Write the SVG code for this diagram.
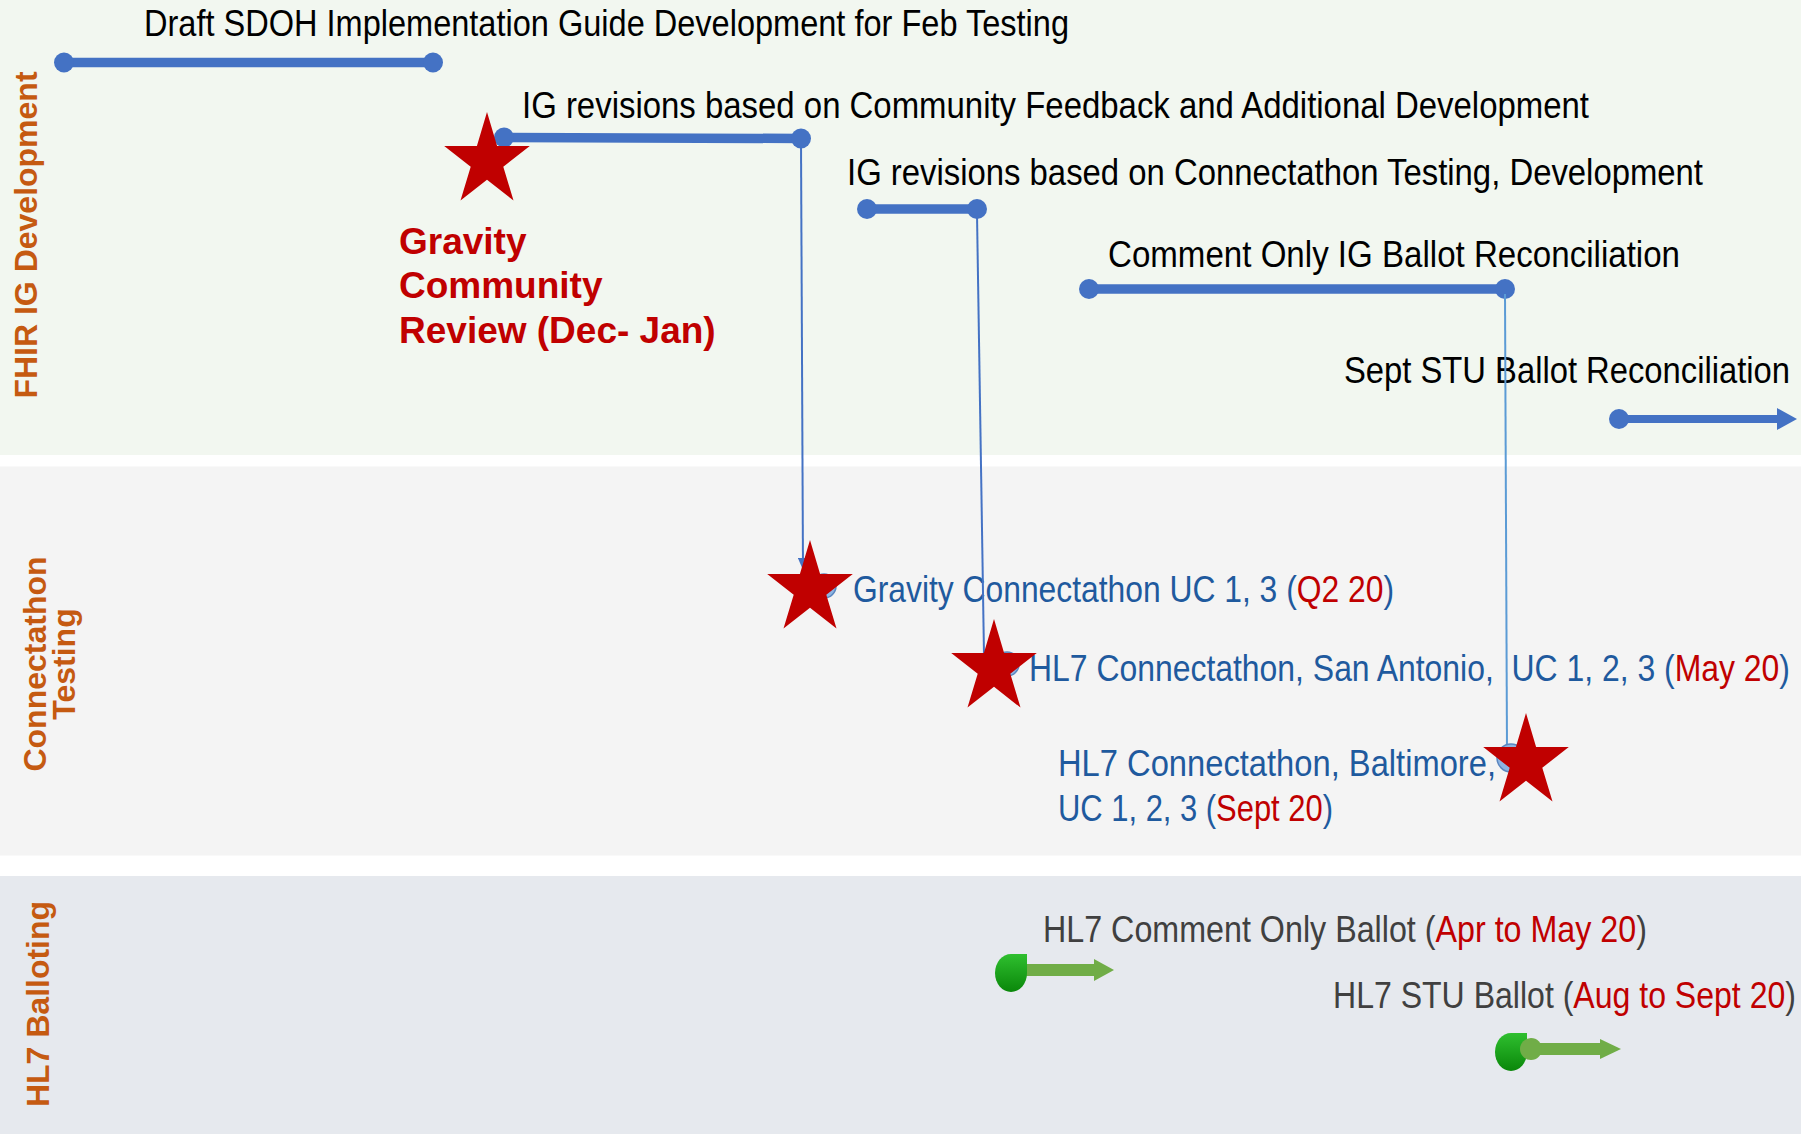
<svg xmlns="http://www.w3.org/2000/svg" width="1812" height="1134" viewBox="0 0 1812 1134">
<defs>
<style>
.lane{font-family:"Liberation Sans",Arial,sans-serif;font-weight:bold;font-size:32px;fill:#C55A11}
.t{font-family:"Liberation Sans Narrow","Liberation Sans",Arial,sans-serif;font-size:36px}
.blk{fill:#000000}
.blu{fill:#1F5A9E}
.gry{fill:#404040}
.red{fill:#C00000}
.rb{font-family:"Liberation Sans",Arial,sans-serif;font-weight:bold;font-size:37px;fill:#C00000}
.bar{stroke:#4472C4;stroke-width:9.5;fill:none}
.dot{fill:#4472C4}
.vl{fill:none;stroke:#4472C4;stroke-width:2}
.vl2{fill:none;stroke:#5B9BD5;stroke-width:2}
.star{fill:#C00000}
.pin{fill:#8DB4E2;stroke:#5B87C0;stroke-width:1.5}
.garrow{fill:#70AD47}
.gmark{fill:url(#gg)}
</style>
<linearGradient id="gg" x1="0" y1="0" x2="0" y2="1">
<stop offset="0" stop-color="#2FBF2F"/>
<stop offset="1" stop-color="#0A870A"/>
</linearGradient>
<path id="starShape" d="M0,-49 L10.1,-15.1 L42.8,-15.1 L16.3,5.8 L26.5,39.6 L0,18.7 L-26.5,39.6 L-16.3,5.8 L-42.8,-15.1 L-10.1,-15.1 Z"/>
<marker id="ah" markerUnits="userSpaceOnUse" markerWidth="12" markerHeight="10" viewBox="0 0 12 10" refX="12" refY="5" orient="auto">
<path d="M0,0 L12,5 L0,10 Z" fill="#4472C4"/>
</marker>
</defs>

<g id="lanes">
<rect x="0" y="0" width="1801" height="455" fill="#F2F7F0"/>
<rect x="0" y="466.5" width="1801" height="389" fill="#F4F4F4"/>
<rect x="0" y="876" width="1801" height="258" fill="#E6E9EE"/>
<text class="lane" text-anchor="middle" transform="translate(37,235) rotate(-90)">FHIR IG Development</text>
<text class="lane" text-anchor="middle" transform="translate(46,664) rotate(-90)">Connectathon</text>
<text class="lane" text-anchor="middle" transform="translate(75,664) rotate(-90)">Testing</text>
<text class="lane" text-anchor="middle" transform="translate(49,1004) rotate(-90)">HL7 Balloting</text>
</g>

<g id="task-draft">
<line class="bar" x1="64" y1="62.5" x2="433" y2="62.5"/>
<circle class="dot" cx="64" cy="62.5" r="10"/>
<circle class="dot" cx="433" cy="62.5" r="10"/>
<text class="t blk" x="144" y="36" textLength="925" lengthAdjust="spacingAndGlyphs">Draft SDOH Implementation Guide Development for Feb Testing</text>
</g>

<g id="task-rev1">
<line class="bar" x1="504" y1="137.5" x2="801" y2="138.5"/>
<circle class="dot" cx="504" cy="137.5" r="10"/>
<circle class="dot" cx="801" cy="138.5" r="10"/>
<text class="t blk" x="522" y="118" textLength="1067" lengthAdjust="spacingAndGlyphs">IG revisions based on Community Feedback and Additional Development</text>
</g>

<g id="task-rev2">
<line class="bar" x1="867" y1="209" x2="977" y2="209"/>
<circle class="dot" cx="867" cy="209" r="10"/>
<circle class="dot" cx="977" cy="209" r="10"/>
<text class="t blk" x="847" y="185" textLength="856" lengthAdjust="spacingAndGlyphs">IG revisions based on Connectathon Testing, Development</text>
</g>

<g id="task-comment-recon">
<line class="bar" x1="1089" y1="289" x2="1505" y2="289"/>
<circle class="dot" cx="1089" cy="289" r="10"/>
<circle class="dot" cx="1505" cy="289" r="10"/>
<text class="t blk" x="1108" y="267" textLength="572" lengthAdjust="spacingAndGlyphs">Comment Only IG Ballot Reconciliation</text>
</g>

<g id="task-stu-recon">
<line x1="1619" y1="419" x2="1778" y2="419" stroke="#4472C4" stroke-width="8"/>
<circle class="dot" cx="1619" cy="419" r="10"/>
<polygon class="dot" points="1777,408 1797,419 1777,430"/>
<text class="t blk" x="1344" y="383" textLength="446" lengthAdjust="spacingAndGlyphs">Sept STU Ballot Reconciliation</text>
</g>

<g id="milestone-gravity-review">
<use href="#starShape" class="star" x="487" y="161"/>
<text class="rb" x="399" y="254">Gravity</text>
<text class="rb" x="399" y="298">Community</text>
<text class="rb" x="399" y="343">Review (Dec- Jan)</text>
</g>

<g id="milestone-gravity-connectathon-text">
<text class="t blu" x="853" y="602" textLength="541" lengthAdjust="spacingAndGlyphs">Gravity Connectathon UC 1, 3 (<tspan class="red">Q2 20</tspan>)</text>
</g>
<g id="milestone-san-antonio-text">
<text class="t blu" x="1029" y="681" textLength="761" lengthAdjust="spacingAndGlyphs" style="white-space:pre">HL7 Connectathon, San Antonio,  UC 1, 2, 3 (<tspan class="red">May 20</tspan>)</text>
</g>
<g id="milestone-baltimore-text">
<text class="t blu" x="1058" y="776" textLength="438" lengthAdjust="spacingAndGlyphs">HL7 Connectathon, Baltimore,</text>
<text class="t blu" x="1058" y="821" textLength="275" lengthAdjust="spacingAndGlyphs">UC 1, 2, 3 (<tspan class="red">Sept 20</tspan>)</text>
</g>

<g id="ballot-comment">
<rect class="garrow" x="1022" y="964" width="73" height="12"/>
<polygon class="garrow" points="1094,959 1114,970 1094,981"/>
<path class="gmark" d="M1027,954 V973 A16,19 0 0 1 1011,992 A16,19 0 0 1 995,973 A16,19 0 0 1 1011,954 Z"/>
<text class="t gry" x="1043" y="942" textLength="604" lengthAdjust="spacingAndGlyphs">HL7 Comment Only Ballot (<tspan class="red">Apr to May 20</tspan>)</text>
</g>

<g id="ballot-stu">
<path class="gmark" d="M1527,1033 V1052 A16,19 0 0 1 1511,1071 A16,19 0 0 1 1495,1052 A16,19 0 0 1 1511,1033 Z"/>
<rect class="garrow" x="1531" y="1043" width="70" height="12"/>
<polygon class="garrow" points="1600,1039 1621,1049 1600,1059"/>
<circle class="garrow" cx="1531" cy="1049" r="11"/>
<text class="t gry" x="1333" y="1008" textLength="463" lengthAdjust="spacingAndGlyphs">HL7 STU Ballot (<tspan class="red">Aug to Sept 20</tspan>)</text>
</g>

<g id="connectors">
<line class="vl" x1="801" y1="143" x2="803" y2="570" marker-end="url(#ah)"/>
<line class="vl" x1="977" y1="214" x2="984" y2="655"/>
<line class="vl2" x1="1505" y1="294" x2="1507" y2="748"/>
</g>

<g id="milestone-stars">
<circle class="pin" cx="824" cy="586" r="12"/>
<use href="#starShape" class="star" x="810" y="589"/>
<circle class="pin" cx="1007" cy="664" r="12"/>
<use href="#starShape" class="star" x="994" y="668"/>
<circle class="pin" cx="1511" cy="758" r="14"/>
<use href="#starShape" class="star" x="1526" y="762"/>
</g>
</svg>
